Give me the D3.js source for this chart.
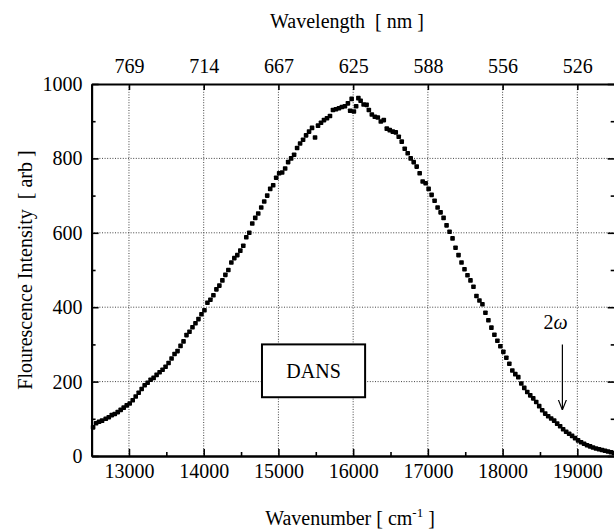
<!DOCTYPE html>
<html>
<head>
<meta charset="utf-8">
<script src="https://cdnjs.cloudflare.com/ajax/libs/d3/7.8.5/d3.min.js"></script>
<style>
  body { margin: 0; background: #fff; }
  svg text { font-family: "Liberation Serif", "Times New Roman", Times, serif !important; fill: #000; }
</style>
</head>
<body>
<div id="chart"></div>
<script>
// wavenumber [cm-1]
let wavenumber = [
  12520, 12560, 12600, 12640, 12690, 12730, 12770, 12810, 12850, 12890,
  12930, 12970, 13010, 13050, 13090, 13130, 13170, 13210, 13250, 13290,
  13330, 13370, 13410, 13450, 13490, 13530, 13570, 13610, 13650, 13690,
  13730, 13770, 13810, 13850, 13890, 13930, 13970, 14010, 14050, 14090,
  14130, 14170, 14210, 14250, 14290, 14330, 14370, 14410, 14450, 14490,
  14530, 14570, 14610, 14650, 14690, 14730, 14770, 14810, 14850, 14890,
  14930, 14970, 15010, 15050, 15090, 15130, 15170, 15210, 15250, 15290,
  15330, 15370, 15410, 15450, 15490, 15530, 15570, 15610, 15650, 15690,
  15730, 15770, 15810, 15850, 15890, 15930, 15960, 15980, 16010, 16040,
  16070, 16100, 16140, 16180, 16210, 16250, 16290, 16330, 16370, 16410,
  16450, 16490, 16530, 16570, 16610, 16650, 16690, 16730, 16770, 16810,
  16850, 16890, 16930, 16970, 17010, 17050, 17090, 17130, 17170, 17210,
  17250, 17290, 17330, 17370, 17410, 17450, 17490, 17530, 17570, 17610,
  17650, 17690, 17730, 17770, 17810, 17850, 17890, 17930, 17970, 18010,
  18050, 18090, 18130, 18170, 18210, 18250, 18290, 18330, 18370, 18410,
  18450, 18490, 18530, 18570, 18610, 18650, 18690, 18730, 18770, 18810,
  18850, 18890, 18930, 18970, 19010, 19050, 19090, 19130, 19170, 19210,
  19250, 19290, 19330, 19370, 19410, 19450, 19490
];

// fluorescence intensity [arb]
let intensity = [
  77, 88, 92, 95, 100, 104, 110, 113, 118, 124,
  130, 136, 141, 150, 160, 170, 180, 190, 197, 205,
  210, 218, 225, 232, 240, 250, 262, 274, 282, 296,
  308, 325, 334, 346, 357, 368, 381, 392, 412, 420,
  432, 448, 458, 472, 487, 500, 520, 532, 540, 552,
  565, 588, 600, 625, 640, 652, 668, 684, 700, 718,
  728, 748, 760, 762, 773, 790, 800, 810, 828, 840,
  850, 862, 872, 882, 856, 888, 896, 903, 908, 914,
  930, 932, 935, 938, 940, 948, 928, 960, 926, 940,
  962, 955, 945, 944, 930, 918, 912, 910, 899, 903,
  880, 876, 872, 870, 858, 845, 826, 814, 800, 790,
  778, 760, 738, 733, 718, 702, 686, 668, 655, 640,
  620, 603, 585, 560, 540, 520, 502, 486, 472, 455,
  430, 418, 408, 385, 365, 345, 326, 310, 295, 280,
  264, 248, 230, 220, 212, 195, 183, 172, 163, 155,
  145, 134, 123, 114, 107, 101, 95, 87, 80, 72,
  65, 60, 54, 48, 42, 37, 33, 29, 26, 23,
  20, 18, 16, 14, 12, 10, 8
];

let xTicks = [13000, 14000, 15000, 16000, 17000, 18000, 19000];
let xMinorTicks = [13500, 14500, 15500, 16500, 17500, 18500, 19500];
let wavelengthLabels = ["769", "714", "667", "625", "588", "556", "526"];
let yTicks = [0, 200, 400, 600, 800, 1000];
let yMinorTicks = [100, 300, 500, 700, 900];
let yGrid = [200, 400, 600, 800];

const FONT = "'Liberation Serif', 'Times New Roman', Times, serif";

let svgWidth = 614;
let svgHeight = 529;

let margin = { top: 84, right: -0.7, bottom: 73, left: 91.6 };
let plot_width = svgWidth - margin.left - margin.right;
let plot_height = svgHeight - margin.top - margin.bottom;

let svg = d3.select("#chart")
  .append("svg")
  .attr("width", svgWidth)
  .attr("height", svgHeight)
  .attr("font-family", FONT);

let chartGroup = svg.append("g")
  .attr("transform", `translate(${margin.left}, ${margin.top})`);

let data = wavenumber.map((w, i) => ({ w: w, v: intensity[i] }));

// scales
let x = d3.scaleLinear().domain([12500, 19500]).range([0, plot_width]);
let y = d3.scaleLinear().domain([0, 1000]).range([plot_height, 0]);

// dotted grid
chartGroup.append("g").selectAll("line")
  .data(xTicks)
  .enter()
  .append("line")
  .attr("x1", d => x(d)).attr("x2", d => x(d))
  .attr("y1", 0).attr("y2", plot_height)
  .attr("stroke", "#444")
  .attr("stroke-width", 1)
  .attr("stroke-dasharray", "1,1.6");

chartGroup.append("g").selectAll("line")
  .data(yGrid)
  .enter()
  .append("line")
  .attr("x1", 0).attr("x2", plot_width)
  .attr("y1", d => y(d)).attr("y2", d => y(d))
  .attr("stroke", "#444")
  .attr("stroke-width", 1)
  .attr("stroke-dasharray", "1,1.6");

// axes (ticks point inward)
function styleAxis(g) {
  g.attr("font-family", FONT).attr("font-size", 20);
  g.select(".domain").attr("stroke-width", 2);
  g.selectAll(".tick line").attr("stroke-width", 1.6);
  g.selectAll("text")
    .style("font-family", FONT)
    .style("font-size", "20px")
    .attr("fill", "#000");
}

let bottomAxis = d3.axisBottom(x)
  .tickValues(xTicks)
  .tickFormat(d3.format("d"))
  .tickSizeInner(-7)
  .tickSizeOuter(0)
  .tickPadding(8);

chartGroup.append("g")
  .attr("transform", `translate(0, ${plot_height})`)
  .call(bottomAxis)
  .call(styleAxis);

chartGroup.append("g")
  .attr("transform", `translate(0, ${plot_height})`)
  .call(d3.axisBottom(x).tickValues(xMinorTicks).tickFormat("").tickSizeInner(-4).tickSizeOuter(0))
  .call(styleAxis);

let topAxis = d3.axisTop(x)
  .tickValues(xTicks)
  .tickFormat((d, i) => wavelengthLabels[i])
  .tickSizeInner(-6)
  .tickSizeOuter(0)
  .tickPadding(11.5);

chartGroup.append("g")
  .call(topAxis)
  .call(styleAxis);

let leftAxis = d3.axisLeft(y)
  .tickValues(yTicks)
  .tickFormat(d3.format("d"))
  .tickSizeInner(-7)
  .tickSizeOuter(0)
  .tickPadding(9);

chartGroup.append("g")
  .call(leftAxis)
  .call(styleAxis);

chartGroup.append("g")
  .call(d3.axisLeft(y).tickValues(yMinorTicks).tickFormat("").tickSizeInner(-4).tickSizeOuter(0))
  .call(styleAxis);

chartGroup.append("g")
  .attr("transform", `translate(${plot_width}, 0)`)
  .call(d3.axisRight(y).tickValues(yTicks).tickFormat("").tickSizeInner(-7).tickSizeOuter(0))
  .call(styleAxis);

chartGroup.append("g")
  .attr("transform", `translate(${plot_width}, 0)`)
  .call(d3.axisRight(y).tickValues(yMinorTicks).tickFormat("").tickSizeInner(-4).tickSizeOuter(0))
  .call(styleAxis);

// DANS label box
chartGroup.append("rect")
  .attr("x", x(14780))
  .attr("y", y(300))
  .attr("width", x(16160) - x(14780))
  .attr("height", y(158) - y(300))
  .attr("fill", "#fff")
  .attr("stroke", "#000")
  .attr("stroke-width", 2);

chartGroup.append("text")
  .attr("x", x(15470))
  .attr("y", y(229))
  .attr("dy", "0.35em")
  .attr("text-anchor", "middle")
  .style("font-size", "20px")
  .text("DANS");

// data points (small filled squares)
let s = 4.6;
chartGroup.selectAll("rect.pt")
  .data(data)
  .enter()
  .append("rect")
  .attr("class", "pt")
  .attr("x", d => x(d.w) - s / 2)
  .attr("y", d => y(d.v) - s / 2)
  .attr("width", s)
  .attr("height", s)
  .attr("rx", 0.8)
  .attr("fill", "#000");

// 2ω annotation with arrow
svg.append("defs").append("marker")
  .attr("id", "head")
  .attr("viewBox", "0 0 10 10")
  .attr("refX", 10).attr("refY", 5)
  .attr("markerWidth", 10).attr("markerHeight", 10)
  .attr("markerUnits", "userSpaceOnUse")
  .attr("orient", "auto")
  .append("path")
  .attr("d", "M0,1 L10,5 L0,9")
  .attr("fill", "none")
  .attr("stroke", "#000")
  .attr("stroke-width", 1.2);

chartGroup.append("line")
  .attr("x1", x(18800)).attr("x2", x(18800))
  .attr("y1", y(300)).attr("y2", y(124))
  .attr("stroke", "#000")
  .attr("stroke-width", 1.2)
  .attr("marker-end", "url(#head)");

let omega = chartGroup.append("text")
  .attr("x", x(18710))
  .attr("y", y(342))
  .attr("text-anchor", "middle")
  .style("font-size", "20px");
omega.append("tspan").text("2");
omega.append("tspan").style("font-style", "italic").text("ω");

// axis titles
svg.append("text")
  .attr("x", 347)
  .attr("y", 28)
  .attr("text-anchor", "middle")
  .style("font-size", "20px")
  .attr("xml:space", "preserve")
  .text("Wavelength  [ nm ]");

let xTitle = svg.append("text")
  .attr("x", 350)
  .attr("y", 525)
  .attr("text-anchor", "middle")
  .style("font-size", "20px");
xTitle.append("tspan").text("Wavenumber [ cm");
xTitle.append("tspan").attr("dy", -8).style("font-size", "13px").text("-1");
xTitle.append("tspan").attr("dy", 8).text(" ]");

svg.append("text")
  .attr("transform", `translate(32, ${margin.top + plot_height / 2}) rotate(-90)`)
  .attr("text-anchor", "middle")
  .style("font-size", "20px")
  .attr("xml:space", "preserve")
  .text("Flourescence Intensity  [ arb ]");
</script>
</body>
</html>
